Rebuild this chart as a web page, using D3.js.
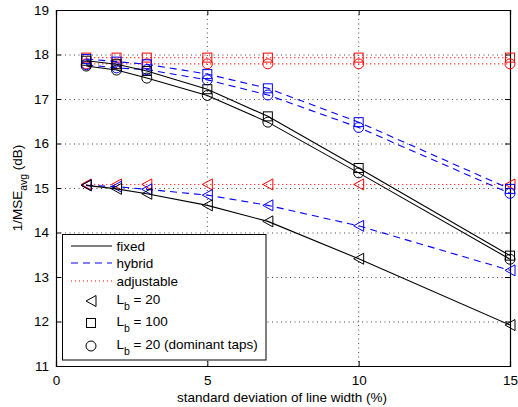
<!DOCTYPE html>
<html><head><meta charset="utf-8">
<script src="https://cdn.jsdelivr.net/npm/d3@7"></script>
<style>body{margin:0;background:#fff}svg{display:block;font-family:"Liberation Sans",Arial,sans-serif}</style>
</head><body><svg id="c" width="518" height="407"></svg>
<script>
const xs = [1, 2, 3, 5, 7, 10, 15];
const xTicks = [0, 5, 10, 15];
const yTicks = [11, 12, 13, 14, 15, 16, 17, 18, 19];
const fixedLb20 = [15.06, 14.98, 14.87, 14.61, 14.25, 13.41, 11.92];
const fixedLb100 = [17.86, 17.78, 17.63, 17.22, 16.61, 15.45, 13.48];
const fixedDom = [17.74, 17.65, 17.47, 17.08, 16.48, 15.34, 13.40];
const hybridLb20 = [15.06, 15.03, 14.97, 14.84, 14.61, 14.15, 13.15];
const hybridLb100 = [17.90, 17.84, 17.78, 17.56, 17.24, 16.48, 14.98];
const hybridDom = [17.77, 17.70, 17.66, 17.43, 17.09, 16.36, 14.88];
const adjLb20 = [15.08, 15.08, 15.08, 15.08, 15.08, 15.08, 15.08];
const adjLb100 = [17.93, 17.93, 17.93, 17.93, 17.93, 17.93, 17.93];
const adjDom = [17.79, 17.79, 17.79, 17.79, 17.79, 17.79, 17.79];

const FS = 13.5;
const svg = d3.select("#c");
const L = 56, R = 510, T = 10, B = 366;
const x = d3.scaleLinear().domain([0, 15]).range([L, R]);
const y = d3.scaleLinear().domain([11, 19]).range([B, T]);

// grid
const g = svg.append("g");
g.selectAll("line.gx").data(xTicks.slice(1, -1)).enter().append("line")
  .attr("x1", d => x(d)).attr("x2", d => x(d)).attr("y1", T).attr("y2", B)
  .attr("stroke", "#444").attr("stroke-width", 1).attr("stroke-dasharray", "1,3.5");
g.selectAll("line.gy").data(yTicks.slice(1, -1)).enter().append("line")
  .attr("x1", L).attr("x2", R).attr("y1", d => y(d) + 0.5).attr("y2", d => y(d) + 0.5)
  .attr("stroke", "#444").attr("stroke-width", 1).attr("stroke-dasharray", "1,3.5");

// axes
const ax = svg.append("g").attr("transform", `translate(0,${B})`)
  .call(d3.axisBottom(x).tickValues(xTicks).tickSize(-5).tickPadding(9));
const ay = svg.append("g").attr("transform", `translate(${L},0)`)
  .call(d3.axisLeft(y).tickValues(yTicks).tickSize(-5).tickPadding(7));
const axt = svg.append("g").attr("transform", `translate(0,${T})`)
  .call(d3.axisTop(x).tickValues(xTicks).tickSize(-5).tickFormat(""));
const ayr = svg.append("g").attr("transform", `translate(${R},0)`)
  .call(d3.axisRight(y).tickValues(yTicks).tickSize(-5).tickFormat(""));
[ax, ay, axt, ayr].forEach(a => {
  a.selectAll("text").attr("font-size", FS).attr("fill", "#000").attr("font-family", "Liberation Sans, Arial, sans-serif");
  a.selectAll("path,line").attr("stroke", "#000");
  a.select("path").attr("stroke-width", 1.2);
});

// series
const series = [
  {v: fixedLb20, c: "#000", d: null, m: "tri"},
  {v: fixedLb100, c: "#000", d: null, m: "sq"},
  {v: fixedDom, c: "#000", d: null, m: "ci"},
  {v: hybridLb20, c: "#0000ff", d: "7,5", m: "tri"},
  {v: hybridLb100, c: "#0000ff", d: "7,5", m: "sq"},
  {v: hybridDom, c: "#0000ff", d: "7,5", m: "ci"},
  {v: adjLb20, c: "#ff0000", d: "1,3", m: "tri"},
  {v: adjLb100, c: "#ff0000", d: "1,3", m: "sq"},
  {v: adjDom, c: "#ff0000", d: "1,3", m: "ci"}
].reverse();

const line = d3.line().x((d, i) => x(xs[i])).y(d => y(d));
function marker(sel, type, color) {
  if (type === "tri") {
    sel.append("path").attr("d", "M-5,0L5,-5.5L5,5.5Z");
  } else if (type === "sq") {
    sel.append("rect").attr("x", -4.5).attr("y", -4.5).attr("width", 9).attr("height", 9);
  } else {
    sel.append("circle").attr("r", 5);
  }
  sel.selectAll("*").attr("fill", "none").attr("stroke", color).attr("stroke-width", 1);
}
series.forEach(s => {
  svg.append("path").datum(s.v).attr("d", line).attr("fill", "none")
    .attr("stroke", s.c).attr("stroke-width", 1.1).attr("stroke-dasharray", s.d);
  s.v.forEach((v, i) => {
    const mg = svg.append("g").attr("transform", `translate(${x(xs[i])},${y(v)})`);
    marker(mg, s.m, s.c);
  });
});

// legend
const lg = svg.append("g");
lg.append("rect").attr("x", 62.5).attr("y", 234.5).attr("width", 203.5).attr("height", 125.5)
  .attr("fill", "#fff").attr("stroke", "#000").attr("stroke-width", 1);
const lineItems = [
  {t: "fixed", c: "#000", d: null, yy: 246},
  {t: "hybrid", c: "#0000ff", d: "7,5", yy: 263},
  {t: "adjustable", c: "#ff0000", d: "1,3", yy: 281}
];
lineItems.forEach(it => {
  lg.append("line").attr("x1", 71).attr("x2", 112).attr("y1", it.yy).attr("y2", it.yy)
    .attr("stroke", it.c).attr("stroke-width", 1.1).attr("stroke-dasharray", it.d);
  lg.append("text").attr("x", 116.5).attr("y", it.yy + 4.5).attr("font-size", FS).text(it.t);
});
const mItems = [
  {m: "tri", yy: 301, rest: " = 20"},
  {m: "sq", yy: 323, rest: " = 100"},
  {m: "ci", yy: 346, rest: " = 20 (dominant taps)"}
];
mItems.forEach(it => {
  const mg = lg.append("g").attr("transform", `translate(91,${it.yy})`);
  marker(mg, it.m, "#000");
  const t = lg.append("text").attr("x", 116.5).attr("y", it.yy + 3).attr("font-size", FS);
  t.append("tspan").text("L");
  t.append("tspan").attr("dy", 5.5).attr("font-size", 10.5).text("b");
  t.append("tspan").attr("dy", -5.5).text(it.rest);
});

// axis labels
svg.append("text").attr("x", (L + R) / 2 - 1).attr("y", 402).attr("text-anchor", "middle")
  .attr("font-size", FS).text("standard deviation of line width (%)");
const yl = svg.append("text").attr("transform", `translate(22,${(T + B) / 2}) rotate(-90)`)
  .attr("text-anchor", "middle").attr("font-size", FS);
yl.append("tspan").text("1/MSE");
yl.append("tspan").attr("dy", 4.5).attr("font-size", 10.5).text("avg");
yl.append("tspan").attr("dy", -4.5).text(" (dB)");
</script></body></html>
